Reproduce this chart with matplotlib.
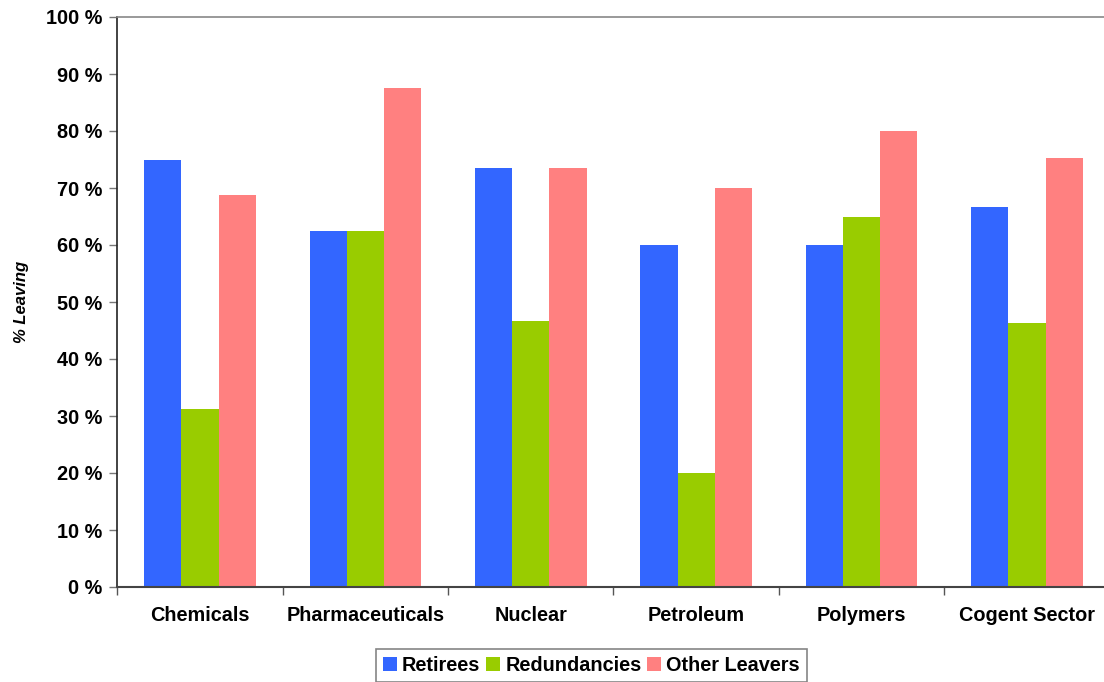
import matplotlib
matplotlib.use("Agg")
import matplotlib.pyplot as plt
import numpy as np
from matplotlib.ticker import FixedLocator

categories = ["Chemicals", "Pharmaceuticals", "Nuclear", "Petroleum", "Polymers", "Cogent Sector"]
retirees = [75.0, 62.5, 73.5, 60.0, 60.0, 66.7]
redundancies = [31.25, 62.5, 46.7, 20.0, 65.0, 46.3]
other_leavers = [68.75, 87.5, 73.5, 70.0, 80.0, 75.3]
series_names = ["Retirees", "Redundancies", "Other Leavers"]
colors = ["#3366FF", "#99CC00", "#FF8080"]
yticks = list(range(0, 101, 10))
ytick_labels = [f"{v} %" for v in yticks]

plt.rcParams['font.family'] = ['Liberation Sans', 'DejaVu Sans']
FS = 14.3

fig = plt.figure(figsize=(11.04, 6.82), dpi=100)
ax = fig.add_axes([117.3/1104, 95/682, 992.3/1104, 570/682])

x = np.arange(len(categories))
w = 0.225
for i, (vals, name, c) in enumerate(zip([retirees, redundancies, other_leavers], series_names, colors)):
    ax.bar(x + (i - 1) * w, vals, width=w, color=c, label=name, linewidth=0)

ax.set_xlim(-0.5, len(categories) - 0.5)
ax.set_ylim(0, 100)
ax.set_yticks(yticks)
ax.set_yticklabels(ytick_labels, fontsize=FS, fontweight='bold')
ax.set_xticks(x)
ax.set_xticklabels(categories, fontsize=FS, fontweight='bold')
ax.tick_params(axis='x', which='major', length=0, pad=14)
ax.xaxis.set_minor_locator(FixedLocator(np.arange(-0.5, len(categories), 1.0)))
ax.tick_params(axis='x', which='minor', length=6, color='#555555', width=1, direction='out')
ax.tick_params(axis='y', length=6, color='#777777', width=1, direction='out', pad=5)

ax.spines['left'].set_color('#222222')
ax.spines['left'].set_linewidth(1.2)
ax.spines['bottom'].set_color('#444444')
ax.spines['bottom'].set_linewidth(1.5)
ax.spines['top'].set_color('#888888')
ax.spines['top'].set_linewidth(1.2)
ax.spines['right'].set_visible(False)

ax.set_ylabel("% Leaving", fontsize=12, fontweight='bold', style='italic')
ax.yaxis.set_label_coords(-88/992.3, 0.5)

leg = fig.legend(loc='upper center', bbox_to_anchor=(591.5/1104, 1 - 649/682), ncol=3,
                 prop={'weight': 'bold', 'size': FS},
                 frameon=True, fancybox=False, edgecolor='#666666',
                 handlelength=0.7, handleheight=0.7, handletextpad=0.25,
                 columnspacing=0.3, borderpad=0.35, borderaxespad=0)
leg.get_frame().set_linewidth(1.2)

fig.savefig("out.png", dpi=100)
